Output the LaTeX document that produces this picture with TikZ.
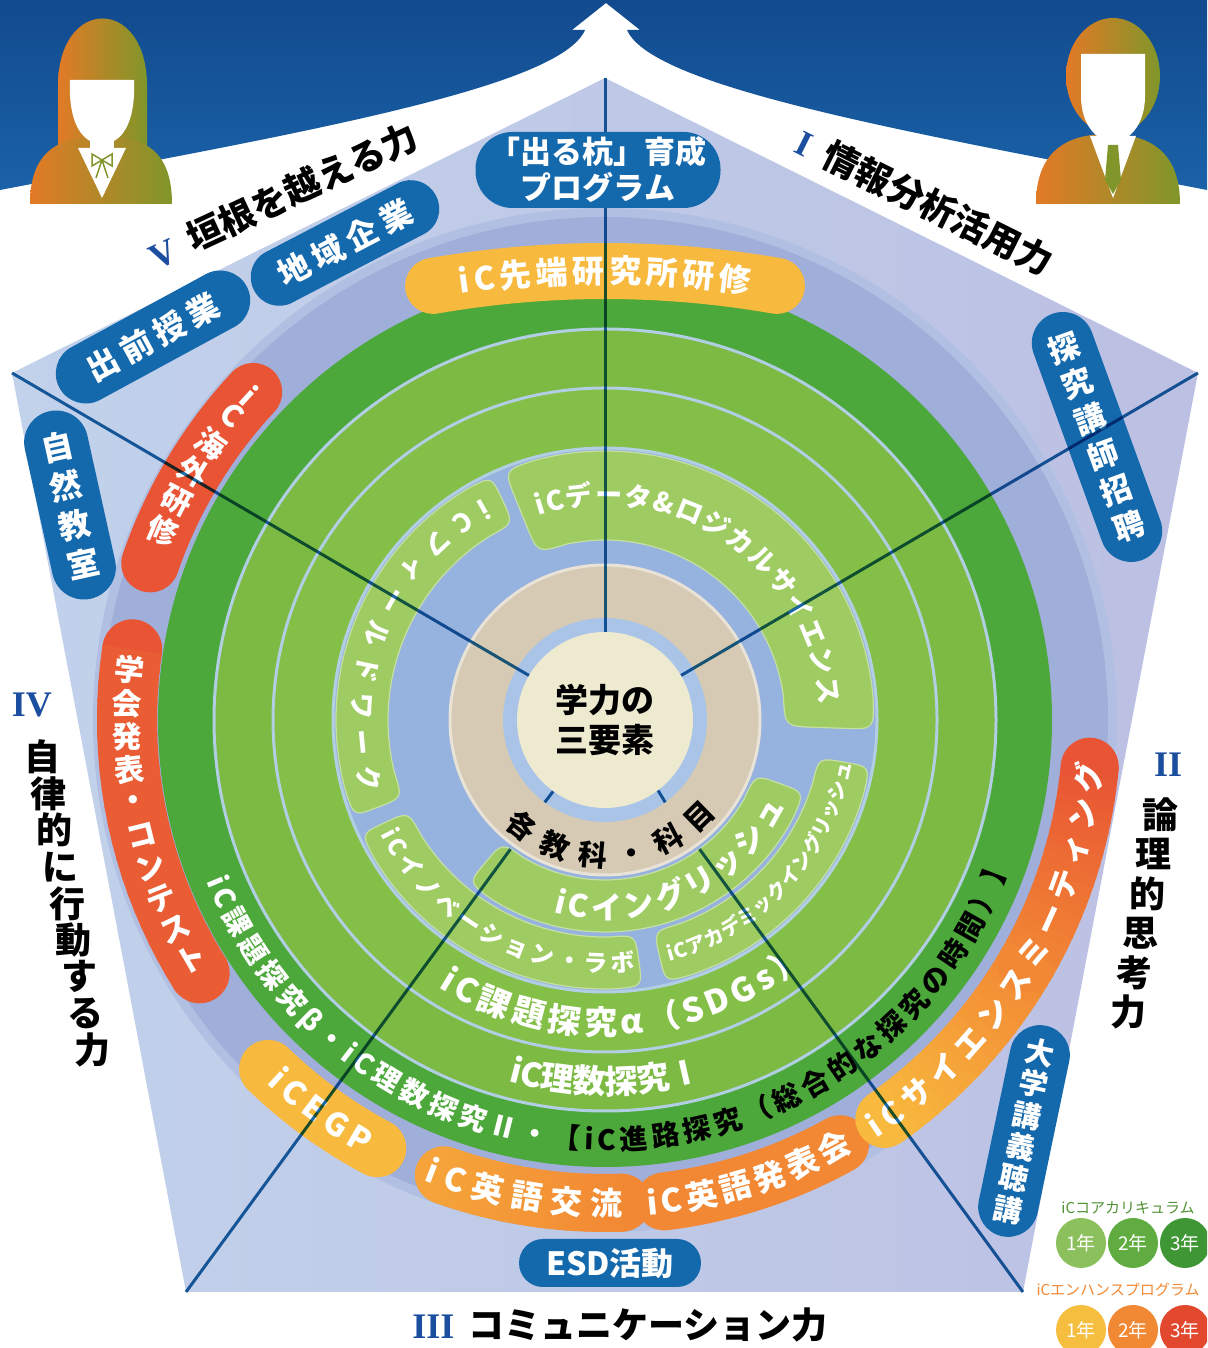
\documentclass[tikz,border=0pt]{standalone}
\usepackage{fontspec}
\setmainfont{Noto Sans CJK JP}
\newfontfamily\romanfont{Liberation Serif}
\usetikzlibrary{decorations.text,calc}

\definecolor{banner}{RGB}{26,98,168}
\definecolor{bannerdk}{RGB}{18,74,142}
\definecolor{pentL}{RGB}{194,210,235}
\definecolor{pentR}{RGB}{188,192,227}
\definecolor{discc}{RGB}{160,174,218}
\definecolor{ringA}{RGB}{76,168,58}
\definecolor{ringB}{RGB}{124,186,68}
\definecolor{ringC}{RGB}{132,191,72}
\definecolor{blobc}{RGB}{158,203,98}
\definecolor{sepc}{RGB}{178,206,226}
\definecolor{bgblue}{RGB}{150,178,222}
\definecolor{tanc}{RGB}{214,202,180}
\definecolor{ltblue}{RGB}{170,196,232}
\definecolor{creamc}{RGB}{238,234,208}
\definecolor{pillblue}{RGB}{20,104,172}
\definecolor{numblue}{RGB}{28,78,160}
\definecolor{yellowp}{RGB}{248,186,62}
\definecolor{orangep}{RGB}{242,136,52}
\definecolor{redp}{RGB}{232,84,52}
\definecolor{linec}{RGB}{28,105,165}
\definecolor{porange}{RGB}{226,122,38}
\definecolor{polive}{RGB}{128,150,42}
\definecolor{lg1}{RGB}{140,192,92}
\definecolor{lg2}{RGB}{96,172,64}
\definecolor{lg3}{RGB}{62,150,52}
\definecolor{lo1}{RGB}{246,190,62}
\definecolor{lo2}{RGB}{240,136,52}
\definecolor{lo3}{RGB}{226,72,46}

% text set along a circular arc (radius, start angle, end angle, format, text)
\newcommand\arctext[5]{%
  \path[decorate,decoration={text along path,text align={fit to path},
    text={|#4|#5}}] (#2:#1) arc[start angle=#2,end angle=#3,radius=#1];}

% curved pill: thick arc with round ends
\newcommand\pillarc[5]{%
  \draw[line width=#4,line cap=round,color=#5] (#2:#1) arc[start angle=#2,end angle=#3,radius=#1];}

% curved pill with a colour gradient along it
\newcommand\gradarc[6]{%
  \fill[#5] (#2:#1) circle[radius=#4/2];
  \fill[#6] (#3:#1) circle[radius=#4/2];
  \foreach \gk in {0,...,19}{%
    \pgfmathsetmacro\gaa{#2+(#3-#2)*\gk/20}%
    \pgfmathsetmacro\gbb{#2+(#3-#2)*(\gk+1.25)/20}%
    \pgfmathsetmacro\gmm{100-5*\gk-2.5}%
    \draw[line width=#4,color=#5!\gmm!#6] (\gaa:#1) arc[start angle=\gaa,end angle=\gbb,radius=#1];
  }}

% annular sector with rounded corners (r_in, r_out, a1, a2, corner, style)
\newcommand\rsector[6]{%
  \pgfmathsetmacro\rsdo{deg(#5/#2)}%
  \pgfmathsetmacro\rsdi{deg(#5/#1)}%
  \pgfmathsetmacro\rsAo{#3+\rsdo}\pgfmathsetmacro\rsBo{#4-\rsdo}%
  \pgfmathsetmacro\rsAi{#3+\rsdi}\pgfmathsetmacro\rsBi{#4-\rsdi}%
  \pgfmathsetmacro\rsOc{#2-#5}\pgfmathsetmacro\rsIc{#1+#5}%
  \path[#6] (\rsAo:#2) arc[start angle=\rsAo,end angle=\rsBo,radius=#2]
    .. controls (#4:#2) .. (#4:\rsOc) -- (#4:\rsIc)
    .. controls (#4:#1) .. (\rsBi:#1)
    arc[start angle=\rsBi,end angle=\rsAi,radius=#1]
    .. controls (#3:#1) .. (#3:\rsIc) -- (#3:\rsOc)
    .. controls (#3:#2) .. (\rsAo:#2) -- cycle;}

\begin{document}
\begin{tikzpicture}[x=1pt,y=1pt,
  bluepill/.style={fill=pillblue,rounded corners=#1,inner sep=0pt,text=white,align=center,
    font=\bfseries\fontsize{32}{40}\selectfont},
  title/.style={font=\bfseries\fontsize{36}{40}\selectfont,inner sep=0pt},
  pers/.style={left color=porange,right color=polive},
  radial/.style={draw=linec,line width=3pt},
  vchar/.style={font=\bfseries\fontsize{30}{30}\selectfont,text=white,inner sep=0pt},
  blob/.style={fill=blobc,draw=blobc!60!white,line width=1.2pt},
  lgd/.style={circle,minimum size=50,inner sep=0pt,text=white,font=\fontsize{19}{19}\selectfont}]
\useasboundingbox (0,0) rectangle (1207,1348);
\clip (0,0) rectangle (1207,1348);

% top banner with the upward arrow
\shade[top color=bannerdk,bottom color=banner]
  (0,1348) -- (1207,1348) -- (1207,1158)
  .. controls (912,1215) and (652,1260) .. (627,1318)
  -- (640,1318) -- (606,1345) -- (572,1318) -- (585,1318)
  .. controls (560,1260) and (300,1215) .. (0,1158) -- cycle;

% pentagon
\coordinate (vT) at (605,1270);
\coordinate (vR) at (1198,975);
\coordinate (vBR) at (1023,56);
\coordinate (vBL) at (186,56);
\coordinate (vL) at (12,975);
\shade[left color=pentL,right color=pentR] (vT) -- (vR) -- (vBR) -- (vBL) -- (vL) -- cycle;

\begin{scope}[shift={(605,628)}]
  \fill[discc!50!pentL] (0,0) circle[radius=512];
  \fill[discc] (0,0) circle[radius=503];
  \fill[ringA] (0,0) circle[radius=447];
  \fill[ringB] (0,0) circle[radius=391];
  \fill[ringC] (0,0) circle[radius=332];
  \fill[bgblue] (0,0) circle[radius=272];
  \draw[sepc,line width=3] (0,0) circle[radius=391] (0,0) circle[radius=332] (0,0) circle[radius=272];
  % light green blocks of the inner programme
  \rsector{217}{269}{115}{201}{26}{blob}
  \rsector{180}{269}{-2}{112}{30}{blob}
  \rsector{160}{212}{230}{340}{26}{blob}
  \rsector{217}{269}{205}{278}{26}{blob}
  \rsector{217}{269}{283}{350}{26}{blob}
  \fill[tanc] (0,0) circle[radius=155];
  \draw[white!45!tanc,line width=3] (0,0) circle[radius=155];
  \fill[ltblue] (0,0) circle[radius=102];
\end{scope}

\node[circle,fill=creamc,minimum size=176,inner sep=0pt,align=center,
  font=\bfseries\fontsize{33}{40}\selectfont] (C) at (605,628) {学力の\\三要素};

\begin{scope}[shift={(605,628)}]
  % ring texts
  \path[decorate,decoration={text along path,text align={fit to path},
    text={|\fontsize{28}{28}\selectfont\bfseries\color{white}|iC課題探究β・iC理数探究Ⅱ・|\fontsize{28}{28}\selectfont\bfseries\color{black}|【iC進路探究（総合的な探究の時間）】}}]
    (202:430) arc[start angle=202,end angle=341,radius=430];
  \arctext{374}{255}{285}{\fontsize{33}{33}\selectfont\bfseries\color{white}}{iC理数探究Ⅰ}
  \arctext{315}{238}{310}{\fontsize{33}{33}\selectfont\bfseries\color{white}}{iC課題探究α（SDGs）}
  % block texts
  \arctext{253}{119}{197}{\fontsize{26}{26}\selectfont\bfseries\color{white}}{iCフィールドワーク}
  \arctext{215}{108}{4}{\fontsize{27}{27}\selectfont\bfseries\color{white}}{iCデータ{\&}ロジカルサイエンス}
  \arctext{199}{255}{335}{\fontsize{31}{31}\selectfont\bfseries\color{white}}{iCイングリッシュ}
  \arctext{252}{207}{277}{\fontsize{24}{24}\selectfont\bfseries\color{white}}{iCイノベーション・ラボ}
  \arctext{250}{285}{350}{\fontsize{20}{20}\selectfont\bfseries\color{white}}{iCアカデミックイングリッシュ}
  \arctext{146}{226}{320}{\fontsize{29}{29}\selectfont\bfseries\color{black}}{各教科・科目}

  % enhance programme pills
  \pillarc{481}{137}{161}{58}{redp}
  \foreach \ch/\a in {i/137.6,C/140.7,海/144.9,外/148.9,研/152.9,修/156.9}
    \node[vchar,rotate=\a-180] at (\a:481) {\ch};
  \gradarc{478}{171.5}{212}{60}{redp}{redp!85!orangep}
  \foreach \ch/\a in {学/174,会/178,発/182,表/186,・/190,コ/194,ン/198,テ/202,ス/206,ト/210}
    \node[vchar,rotate=\a-180] at (\a:478) {\ch};
  \pillarc{485}{226}{242}{58}{yellowp}
  \arctext{497}{227}{241}{\fontsize{32}{32}\selectfont\bfseries\color{white}}{iCEGP}
  \gradarc{483}{250.5}{272}{58}{yellowp!55!orangep}{orangep}
  \arctext{495}{248.5}{272}{\fontsize{32}{32}\selectfont\bfseries\color{white}}{iC英語交流}
  \pillarc{485}{277}{299}{58}{orangep}
  \arctext{497}{275}{300}{\fontsize{32}{32}\selectfont\bfseries\color{white}}{iC英語発表会}
  \gradarc{487}{305}{330}{58}{yellowp}{orangep}
  \gradarc{487}{330}{354.5}{58}{orangep}{redp}
  \arctext{499}{303}{355}{\fontsize{31}{31}\selectfont\bfseries\color{white}}{iCサイエンスミーティング}
\end{scope}

% flatter pill at the top
\begin{scope}[shift={(605,77)}]
  \pillarc{1000}{99.9}{80.1}{56}{yellowp}
  \arctext{988}{98.4}{81.6}{\fontsize{32}{32}\selectfont\bfseries\color{white}}{iC先端研究所研修}
\end{scope}

% outside programmes
\node[bluepill=30,minimum width=213,minimum height=60,rotate=28.5] (p1) at (153,1011) {出\hspace{6pt}前\hspace{6pt}授\hspace{6pt}業};
\node[bluepill=28,minimum width=205,minimum height=57,rotate=27.5] (p2) at (345,1105) {地\hspace{6pt}域\hspace{6pt}企\hspace{6pt}業};
\node[bluepill=32,minimum width=64,minimum height=192,rotate=12.5] (p3) at (70,843) {自\\然\\教\\室};
\node[bluepill=31,minimum width=62,minimum height=262,rotate=20,font=\bfseries\fontsize{31}{38}\selectfont] (p4) at (1097,911) {探\\究\\講\\師\\招\\聘};
\node[bluepill=30,minimum width=60,minimum height=215,rotate=-11.8,font=\bfseries\fontsize{29}{32}\selectfont] (p5) at (1024,217) {大\\学\\講\\義\\聴\\講};
\node[bluepill=24,minimum width=182,minimum height=48] (p6) at (610,85) {ESD活動};

% five abilities
\node[title,rotate=-26.5] at (925,1146) {{\romanfont\color{numblue}I}\hspace{16pt}情報分析活用力};
\node[title,rotate=25] at (283,1152) {{\romanfont\color{numblue}V}\hspace{16pt}垣根を越える力};
\node[title] at (1168,583) {\romanfont\color{numblue}II};
\foreach \ch [count=\i from 0] in {論,理,的,思,考,力}
  \node[title] at ({1160-6.4*\i},{533-39.4*\i}) {\ch};
\node[title] at (32,643) {\romanfont\color{numblue}IV};
\foreach \ch [count=\i from 0] in {自,律,的,に,行,動,す,る,力}
  \node[title] at ({42+6.25*\i},{591-36.6*\i}) {\ch};
\node[title] at (620,23) {{\romanfont\color{numblue}III}\hspace{14pt}コミュニケーション力};

% legend
\node[text=lg2!85!black,font=\fontsize{15}{15}\selectfont] at (1128,140) {iCコアカリキュラム};
\node[lgd,fill=lg1] at (1081,105) {1年};
\node[lgd,fill=lg2] at (1133,105) {2年};
\node[lgd,fill=lg3] at (1185,105) {3年};
\node[anchor=west,text=lo2,font=\fontsize{15}{15}\selectfont] at (1033,58) {iCエンハンスプログラム};
\node[lgd,fill=lo1] at (1081,18) {1年};
\node[lgd,fill=lo2] at (1133,18) {2年};
\node[lgd,fill=lo3] at (1185,18) {3年};

% radial axes
\begin{scope}[blend mode=multiply]
  \draw[radial] (C) -- (vT);
  \draw[radial] (C) -- (vR);
  \draw[radial] (C) -- (vL);
  \draw[radial] (C.-126.2) -- ($(C)+(-126.2:102)$) ($(C)+(-126.2:160)$) -- (vBL);
  \draw[radial] (C.-53.8) -- ($(C)+(-53.8:102)$) ($(C)+(-53.8:160)$) -- (vBR);
\end{scope}

\node[bluepill=37,minimum width=245,minimum height=76,font=\bfseries\fontsize{31}{36}\selectfont] (p0) at (598,1178) {「出る杭」育成\\プログラム};

% student figures
\path[pers] (58,1180) -- (58,1262) .. controls (58,1352) and (147,1352) .. (147,1262) -- (147,1180)
  .. controls (140,1172) and (130,1172) .. (124,1182) -- (80,1182) .. controls (74,1172) and (64,1172) .. (58,1180) -- cycle;
\path[pers] (30,1144) .. controls (30,1196) and (58,1212) .. (102,1212) .. controls (146,1212) and (172,1196) .. (172,1144) -- cycle;
\fill[white] (70,1268) -- (134,1268) .. controls (136,1222) and (120,1204) .. (102,1204) .. controls (84,1204) and (68,1222) .. (70,1268) -- cycle;
\fill[white] (90,1212) rectangle (114,1196);
\fill[white] (78,1200) -- (126,1200) -- (102,1150) -- cycle;
\draw[polive,line width=1.5] (102,1188) -- (92,1194) -- (92,1182) -- cycle (102,1188) -- (112,1194) -- (112,1182) -- cycle
  (102,1188) -- (96,1170) (102,1188) -- (108,1170);

\path[pers] (1113,1272) ellipse[x radius=47,y radius=58];
\path[pers] (1036,1144) .. controls (1036,1196) and (1066,1214) .. (1108,1214) .. controls (1150,1214) and (1180,1196) .. (1180,1144) -- cycle;
\fill[white] (1081,1294) -- (1145,1294) -- (1145,1252) .. controls (1145,1222) and (1128,1206) .. (1113,1206) .. controls (1098,1206) and (1081,1222) .. (1081,1252) -- cycle;
\fill[white] (1090,1212) -- (1136,1212) -- (1113,1150) -- cycle;
\fill[polive] (1108,1203) -- (1118,1203) -- (1121,1168) -- (1113,1154) -- (1105,1168) -- cycle;
\end{tikzpicture}
\end{document}
